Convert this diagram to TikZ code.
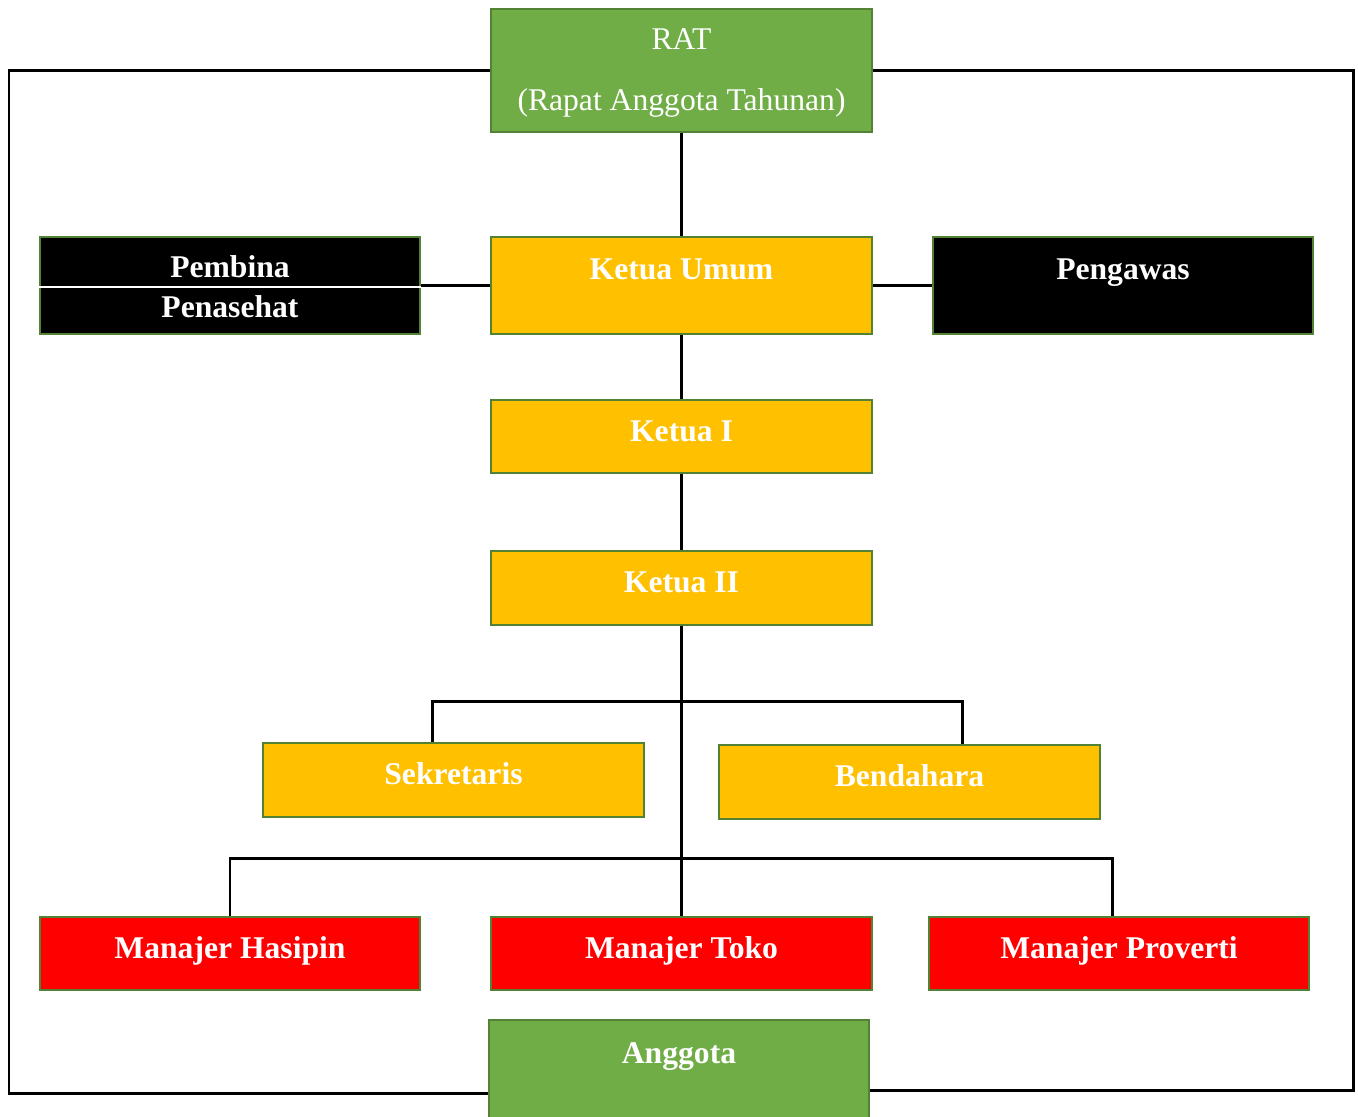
\documentclass[tikz,border=0pt]{standalone}
\usepackage{fontspec}
\setmainfont{Liberation Serif}
\usetikzlibrary{positioning}
\definecolor{ratgreen}{HTML}{70AD47}
\definecolor{edgegreen}{HTML}{548235}
\definecolor{pengurus}{HTML}{FFC000}
\definecolor{manajer}{HTML}{FF0000}
\tikzset{
  box/.style={draw=edgegreen, line width=1.2pt, minimum width=7.62cm, inner sep=0pt},
  txt/.style={text=white, font=\fontsize{18}{21}\selectfont, anchor=base, yshift=-0.86cm},
  btxt/.style={txt, font=\bfseries\fontsize{18}{21}\selectfont},
  conn/.style={line width=1.7pt}
}
\begin{document}
\begin{tikzpicture}[x=0.02cm, y=-0.02cm]
\clip (0,0) rectangle (1358,1116);
\fill[white] (0,0) rectangle (1358,1116);
% rapat dan anggota
\node[box, fill=ratgreen, minimum height=2.46cm,
  label={[txt, yshift=0.02cm]north:RAT}, label={[txt, yshift=-1.2cm]north:(Rapat Anggota Tahunan)}] (rat) at (681.5,70.5) {};
\node[box, fill=ratgreen, minimum height=2.2cm, minimum width=7.6cm,
  label={[btxt, yshift=-0.04cm]north:Anggota}] (ag) at (679,1075) {};
% outer frame
\coordinate (tl) at (9,70.5);
\coordinate (tr) at (1353,70.5);
\coordinate (bl) at (9,1093);
\coordinate (br) at (1353,1090);
\draw[conn] (rat.west) -- (tl) -- (bl) -- (ag.west |- bl);
\draw[conn] (rat.east) -- (tr) -- (br) -- (ag.east |- br);
% pengurus
\node[box, fill=pengurus, minimum height=1.94cm, label={[btxt, yshift=-0.02cm]north:Ketua Umum}] (ku) at (681.5,285.5) {};
\node[box, fill=black, minimum height=1.94cm, minimum width=7.6cm,
  label={[btxt, yshift=0.02cm]north:Pembina}, label={[btxt, yshift=-0.78cm]north:Penasehat}] (pb) at (230,285.5) {};
\draw[white, line width=0.8pt] ([yshift=-0.03cm]pb.west) -- ([yshift=-0.03cm]pb.east);
\node[box, fill=black, minimum height=1.94cm, minimum width=7.6cm, label={[btxt, yshift=-0.02cm]north:Pengawas}] (pg) at (1123,285.5) {};
\node[box, fill=pengurus, minimum height=1.46cm, label={[btxt]north:Ketua I}] (k1) at (681.5,436.5) {};
\node[box, fill=pengurus, minimum height=1.48cm, label={[btxt]north:Ketua II}] (k2) at (681.5,588) {};
\node[box, fill=pengurus, minimum height=1.48cm, label={[btxt]north:Sekretaris}] (sk) at (453.5,780) {};
\node[box, fill=pengurus, minimum height=1.48cm, label={[btxt]north:Bendahara}] (bd) at (909.5,782) {};
% manajer
\node[box, fill=manajer, minimum height=1.46cm, minimum width=7.6cm, label={[btxt]north:Manajer Hasipin}] (mh) at (230,953.5) {};
\node[box, fill=manajer, minimum height=1.46cm, label={[btxt]north:Manajer Toko}] (mt) at (681.5,953.5) {};
\node[box, fill=manajer, minimum height=1.46cm, minimum width=7.6cm, label={[btxt]north:Manajer Proverti}] (mp) at (1119,953.5) {};
% connectors
\draw[conn] (rat.south) -- (ku.north);
\draw[conn] (pb.east) -- (ku.west);
\draw[conn] (ku.east) -- (pg.west);
\draw[conn] (ku.south) -- (k1.north);
\draw[conn] (k1.south) -- (k2.north);
\draw[conn] (k2.south) -- (mt.north);
\coordinate (b1) at (432,701);
\coordinate (b2) at (962,701);
\coordinate (b3) at (230,858);
\coordinate (b4) at (1112,858);
\draw[conn] (b1 |- sk.north) -- (b1) -- (b2) -- (b2 |- bd.north);
\draw[conn] (mh.north) -- (b3) -- (b4) -- (b4 |- mp.north);
\end{tikzpicture}
\end{document}
